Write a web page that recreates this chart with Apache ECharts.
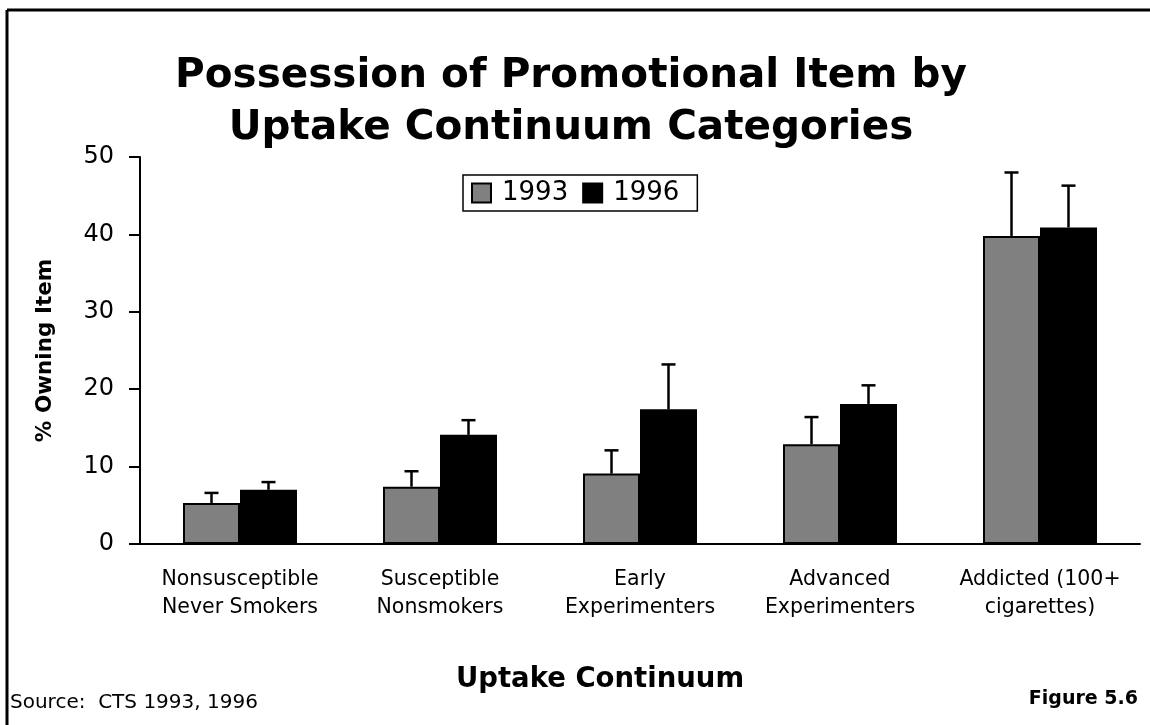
<!DOCTYPE html>
<html>
  <head>
    <meta charset="utf-8" />
    <title>Possession of Promotional Item</title>
    <script src="https://cdn.jsdelivr.net/npm/echarts@6.0.0/dist/echarts.min.js"></script>
  </head>
  <body style="margin: 0; padding: 0; border: 0; background: #fff">
    <div id="main" style="width: 1150px; height: 725px"></div>
    <script type="text/javascript">
      var categories = [
        "Nonsusceptible\nNever Smokers",
        "Susceptible\nNonsmokers",
        "Early\nExperimenters",
        "Advanced\nExperimenters",
        "Addicted (100+\ncigarettes)",
      ];
      var years = ["1993", "1996"];
      var values1993 = [5.3, 7.4, 9.1, 12.9, 39.8];
      var values1996 = [7.0, 14.1, 17.4, 18.1, 40.9];
      var upper1993 = [6.6, 9.4, 12.1, 16.4, 48.0];
      var upper1996 = [8.0, 16.0, 23.2, 20.5, 46.3];

      var BAR_SHARE = 0.285;

      function errData(vals, ups) {
        return vals.map(function (v, i) {
          return [i, v, ups[i]];
        });
      }

      function errSeries(vals, ups, side) {
        return {
          type: "custom",
          z: 5,
          silent: true,
          data: errData(vals, ups),
          renderItem: function (params, api) {
            var band = api.size([1, 0])[0];
            var off = side * band * BAR_SHARE / 2;
            var top = api.coord([api.value(0), api.value(1)]);
            var up = api.coord([api.value(0), api.value(2)]);
            var x = top[0] + off;
            var st = { stroke: "#000", lineWidth: 2.5 };
            return {
              type: "group",
              children: [
                { type: "line", shape: { x1: x, y1: top[1], x2: x, y2: up[1] }, style: st },
                { type: "line", shape: { x1: x - 7, y1: up[1], x2: x + 7, y2: up[1] }, style: st },
              ],
            };
          },
        };
      }

      var myChart = echarts.init(document.getElementById("main"));
      var font = "DejaVu Sans";

      myChart.setOption({
        animation: false,
        title: {
          text: "Possession of Promotional Item by\nUptake Continuum Categories",
          left: 566,
          top: 45,
          textAlign: "center",
          textStyle: { fontFamily: font, fontSize: 40.5, fontWeight: "bold", color: "#000", lineHeight: 52 },
        },
        legend: {
          data: years,
          left: 463,
          top: 175,
          orient: "horizontal",
          itemWidth: 19,
          itemHeight: 19,
          itemGap: 14,
          padding: [5, 18, 5, 8],
          borderColor: "#000",
          borderWidth: 1.5,
          icon: "rect",
          textStyle: { fontFamily: font, fontSize: 26, color: "#000", padding: [0, 0, 0, 6] },
        },
        grid: { left: 140, right: 10, top: 157, bottom: 181 },
        xAxis: {
          type: "category",
          data: categories,
          axisTick: { show: false },
          axisLine: { lineStyle: { color: "#000", width: 2 } },
          axisLabel: {
            fontFamily: font,
            fontSize: 20.5,
            color: "#000",
            lineHeight: 28,
            margin: 22,
            interval: 0,
          },
          name: "Uptake Continuum",
          nameLocation: "middle",
          nameGap: 122,
          nameTextStyle: { fontFamily: font, fontSize: 27.5, fontWeight: "bold", color: "#000", padding: [0, 0, 0, -80] },
        },
        yAxis: {
          type: "value",
          min: 0,
          max: 50,
          interval: 10,
          splitLine: { show: false },
          axisLine: { show: true, lineStyle: { color: "#000", width: 2 } },
          axisTick: { show: true, length: 11, lineStyle: { color: "#000", width: 2 } },
          axisLabel: { fontFamily: font, fontSize: 24, color: "#000", margin: 26 },
          name: "% Owning Item",
          nameLocation: "middle",
          nameGap: 84,
          nameTextStyle: { fontFamily: font, fontSize: 21.5, fontWeight: "bold", color: "#000" },
        },
        series: [
          {
            name: "1993",
            type: "bar",
            data: values1993,
            barWidth: BAR_SHARE * 100 + "%",
            barGap: "0%",
            itemStyle: { color: "#808080", borderColor: "#000", borderWidth: 2 },
          },
          {
            name: "1996",
            type: "bar",
            data: values1996,
            barWidth: BAR_SHARE * 100 + "%",
            barGap: "0%",
            itemStyle: { color: "#000", borderColor: "#000", borderWidth: 2 },
          },
          errSeries(values1993, upper1993, -1),
          errSeries(values1996, upper1996, 1),
        ],
        graphic: [
          { type: "line", shape: { x1: 7, y1: 10, x2: 1150, y2: 10 }, style: { stroke: "#000", lineWidth: 3 } },
          { type: "line", shape: { x1: 7, y1: 10, x2: 7, y2: 725 }, style: { stroke: "#000", lineWidth: 3 } },
          {
            type: "text",
            left: 10,
            top: 693,
            style: { text: "Source:  CTS 1993, 1996", fontFamily: font, fontSize: 20, fill: "#000" },
          },
          {
            type: "text",
            right: 12,
            top: 690,
            style: { text: "Figure 5.6", fontFamily: font, fontSize: 19, fontWeight: "bold", fill: "#000" },
          },
        ],
      });
    </script>
  </body>
</html>
